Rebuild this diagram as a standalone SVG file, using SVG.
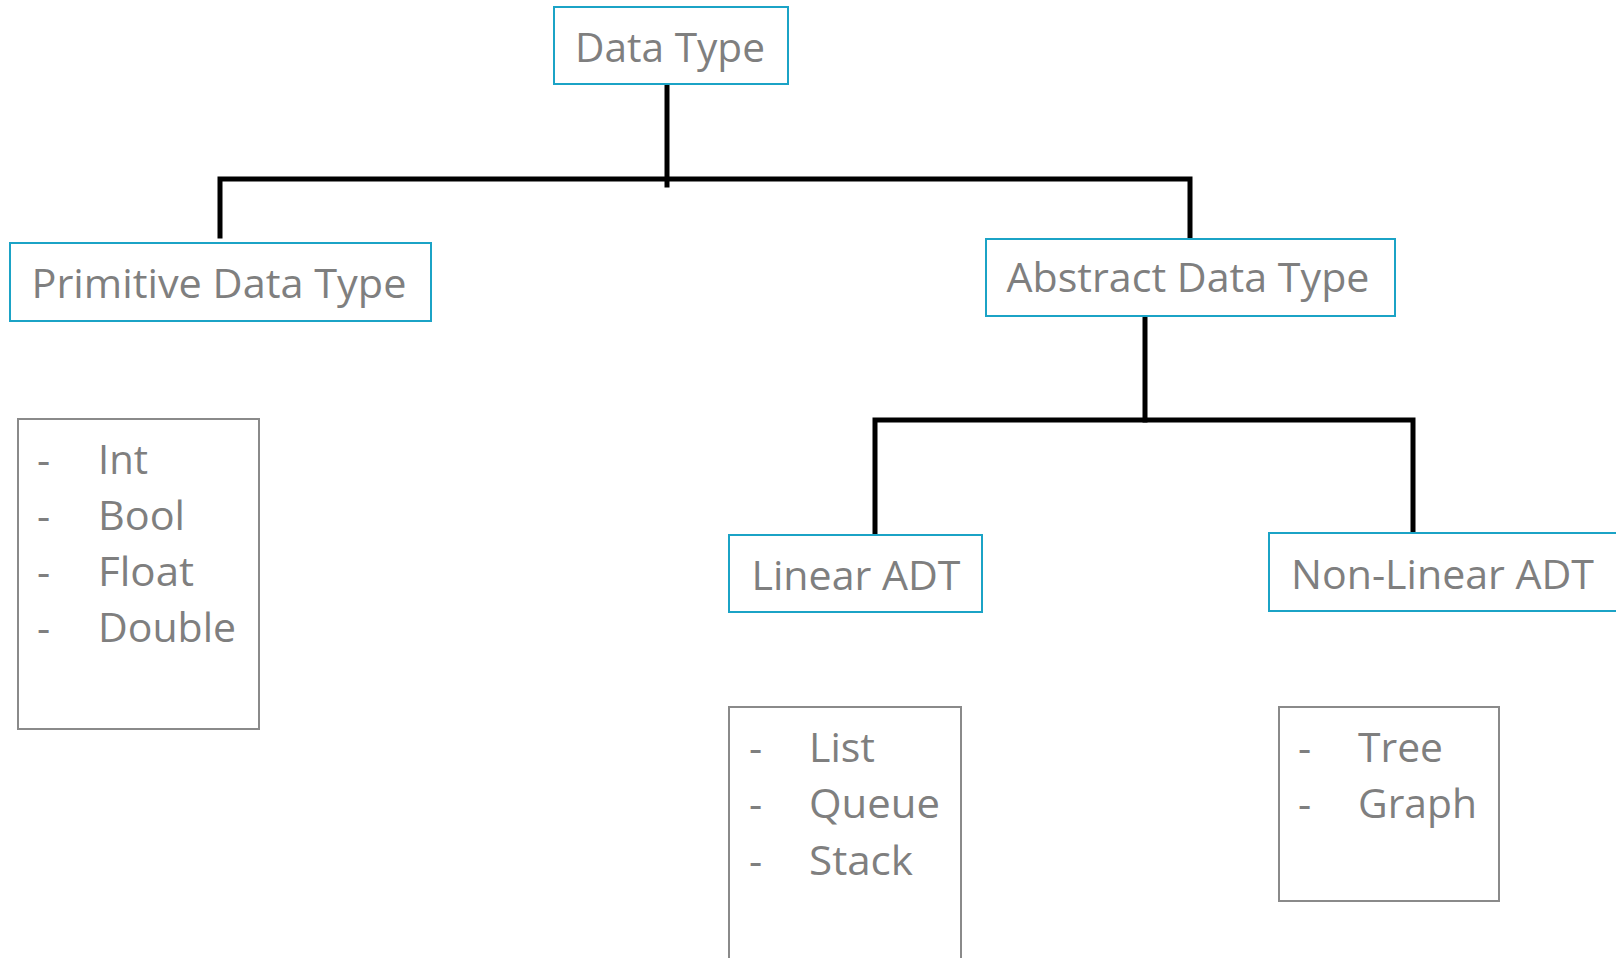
<svg xmlns="http://www.w3.org/2000/svg" width="1616" height="958" viewBox="0 0 1616 958">
  <style>
    .node { fill: #ffffff; stroke: #1ba3c6; stroke-width: 2; }
    .list { fill: #ffffff; stroke: #8a8a8a; stroke-width: 2; }
    .label { font-family: "Open Sans", "Liberation Sans", sans-serif; font-size: 41px; fill: #7f7f7f; }
    .item { font-family: "Open Sans", "Liberation Sans", sans-serif; font-size: 41px; fill: #7f7f7f; }
    .conn { fill: none; stroke: #000000; stroke-width: 5; stroke-linecap: square; stroke-linejoin: miter; }
  </style>

  <rect width="1616" height="958" fill="#ffffff"/>

  <!-- tree connectors -->
  <g id="connectors">
    <path class="conn" d="M667 86 V185"/>
    <path class="conn" d="M220 236 V179 H1190 V236"/>
    <path class="conn" d="M1145 318 V420"/>
    <path class="conn" d="M875 533 V420 H1413 V530"/>
  </g>

  <g id="data-type">
    <rect class="node" x="554" y="7" width="234" height="77"/>
    <text class="label" x="670" y="62" text-anchor="middle" textLength="190" lengthAdjust="spacingAndGlyphs">Data Type</text>
  </g>

  <g id="primitive-data-type">
    <rect class="node" x="10" y="243" width="421" height="78"/>
    <text class="label" x="219" y="298" text-anchor="middle" textLength="375" lengthAdjust="spacingAndGlyphs">Primitive Data Type</text>
  </g>

  <g id="abstract-data-type">
    <rect class="node" x="986" y="239" width="409" height="77"/>
    <text class="label" x="1188" y="292" text-anchor="middle" textLength="363" lengthAdjust="spacingAndGlyphs">Abstract Data Type</text>
  </g>

  <g id="linear-adt">
    <rect class="node" x="729" y="535" width="253" height="77"/>
    <text class="label" x="856" y="590" text-anchor="middle" textLength="209" lengthAdjust="spacingAndGlyphs">Linear ADT</text>
  </g>

  <g id="non-linear-adt">
    <rect class="node" x="1269" y="533" width="360" height="78"/>
    <text class="label" x="1291" y="589" textLength="303" lengthAdjust="spacingAndGlyphs">Non-Linear ADT</text>
  </g>

  <g id="primitive-list">
    <rect class="list" x="18" y="419" width="241" height="310"/>
    <text class="item" x="37" y="474">-</text>
    <text class="item" x="37" y="530">-</text>
    <text class="item" x="37" y="586">-</text>
    <text class="item" x="37" y="642">-</text>
    <text class="item" x="98" y="474" textLength="50" lengthAdjust="spacingAndGlyphs">Int</text>
    <text class="item" x="98" y="530" textLength="87" lengthAdjust="spacingAndGlyphs">Bool</text>
    <text class="item" x="98" y="586" textLength="96" lengthAdjust="spacingAndGlyphs">Float</text>
    <text class="item" x="98" y="642" textLength="138" lengthAdjust="spacingAndGlyphs">Double</text>
  </g>

  <g id="linear-list">
    <rect class="list" x="729" y="707" width="232" height="270"/>
    <text class="item" x="749" y="762">-</text>
    <text class="item" x="749" y="818">-</text>
    <text class="item" x="749" y="875">-</text>
    <text class="item" x="809" y="762" textLength="66" lengthAdjust="spacingAndGlyphs">List</text>
    <text class="item" x="809" y="818" textLength="131" lengthAdjust="spacingAndGlyphs">Queue</text>
    <text class="item" x="809" y="875" textLength="104" lengthAdjust="spacingAndGlyphs">Stack</text>
  </g>

  <g id="non-linear-list">
    <rect class="list" x="1279" y="707" width="220" height="194"/>
    <text class="item" x="1298" y="762">-</text>
    <text class="item" x="1298" y="818">-</text>
    <text class="item" x="1358" y="762" textLength="85" lengthAdjust="spacingAndGlyphs">Tree</text>
    <text class="item" x="1358" y="818" textLength="119" lengthAdjust="spacingAndGlyphs">Graph</text>
  </g>
</svg>
